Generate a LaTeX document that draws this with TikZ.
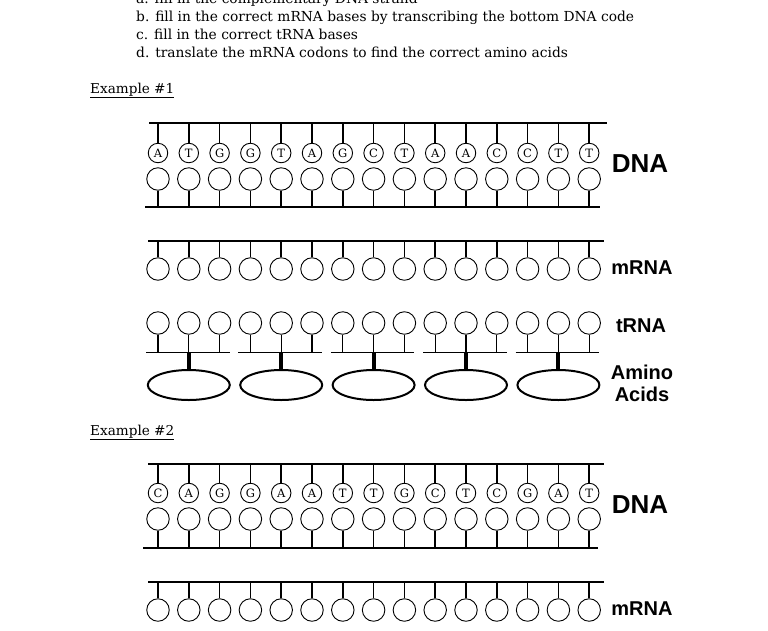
\documentclass[tikz,border=0pt]{standalone}
\usepackage{fontspec}
\setmainfont{DejaVu Serif}
\newfontfamily\labfont{Liberation Sans}
\usetikzlibrary{shapes.geometric}
\begin{document}
\begin{tikzpicture}[x=1pt,y=-1pt,
  basec/.style={circle,draw,line width=0.9pt,minimum size=19.5pt,inner sep=0pt,font=\fontsize{11.5}{11.5}\selectfont},
  blank/.style={circle,draw,line width=0.9pt,minimum size=22.5pt,inner sep=0pt},
  backbone/.style={line width=2.4pt},
  stem/.style={line width=1.5pt},
  thickstem/.style={line width=4pt},
  barline/.style={line width=1pt},
  acid/.style={ellipse,draw,line width=2pt,minimum width=82pt,minimum height=30pt,inner sep=0pt},
  lab/.style={font=\labfont\bfseries\fontsize{20}{20}\selectfont},
  biglab/.style={font=\labfont\bfseries\fontsize{26}{26}\selectfont},
  instr/.style={anchor=base west,inner sep=0pt,font=\fontsize{13.8}{13.8}\selectfont},
  exlab/.style={anchor=base west,inner sep=0pt,font=\fontsize{13.6}{13.6}\selectfont}]
\useasboundingbox (0,0) rectangle (768,630);
\clip (0,0) rectangle (768,630);

% instructions
\node[instr] (ia) at (136,3) {a. fill in the complementary DNA strand};
\node[instr] (ib) at (136,21) {b. fill in the correct mRNA bases by transcribing the bottom DNA code};
\node[instr] (ic) at (136,39) {c. fill in the correct tRNA bases};
\node[instr] (id) at (136,57) {d. translate the mRNA codons to find the correct amino acids};

% ---------- Example 1 ----------
\node[exlab] (ex1) at (90,93) {\underline{Example \#1}};

% DNA
\coordinate (e1dtl) at (149,123); \coordinate (e1dtr) at (607,123);
\coordinate (e1dbl) at (145,207); \coordinate (e1dbr) at (600,207);
\draw[backbone] (e1dtl) -- (e1dtr);
\draw[backbone] (e1dbl) -- (e1dbr);
\foreach \L [count=\i] in {A,T,G,G,T,A,G,C,T,A,A,C,C,T,T}{
  \pgfmathsetmacro{\xx}{158+(\i-1)*30.8}
  \node[basec] (e1a\i) at (\xx,153) {\L};
  \node[blank] (e1b\i) at (\xx,179) {};
  \draw[stem] (e1a\i.north) -- (e1a\i.north |- e1dtl);
  \draw[stem] (e1b\i.south) -- (e1b\i.south |- e1dbl);
}
\node[biglab] (e1dna) at (640,164) {DNA};

% mRNA
\coordinate (e1ml) at (148,241); \coordinate (e1mr) at (604,241);
\draw[backbone] (e1ml) -- (e1mr);
\foreach \i in {1,...,15}{
  \pgfmathsetmacro{\xx}{158+(\i-1)*30.8}
  \node[blank] (e1m\i) at (\xx,269) {};
  \draw[stem] (e1m\i.north) -- (e1m\i.north |- e1ml);
}
\node[lab] (e1mrna) at (642,268) {mRNA};

% tRNA
\foreach \i in {1,...,15}{
  \pgfmathsetmacro{\xx}{158+(\i-1)*30.8}
  \node[blank] (e1t\i) at (\xx,323) {};
}
\foreach \g in {1,...,5}{
  \pgfmathtruncatemacro{\fa}{3*\g-2}
  \pgfmathtruncatemacro{\fb}{3*\g-1}
  \pgfmathtruncatemacro{\fc}{3*\g}
  \coordinate (e1gl\g) at ([xshift=-12pt]e1t\fa.center |- 0,352);
  \coordinate (e1gr\g) at ([xshift=10pt]e1t\fc.center |- 0,352);
  \draw[barline] (e1gl\g) -- (e1gr\g);
  \foreach \k in {\fa,\fb,\fc}{
    \draw[barline,line width=1.3pt] (e1t\k.south) -- (e1t\k.south |- e1gl\g);
  }
  \node[acid] (e1aa\g) at (e1t\fb.center |- 0,385) {};
  \draw[thickstem] (e1t\fb.center |- e1gl\g) -- (e1aa\g.north);
}
\node[lab] (e1trna) at (641,326) {tRNA};
\node[lab] (e1amino) at (642,372) {Amino};
\node[lab] (e1acids) at (642,394) {Acids};

% ---------- Example 2 ----------
\node[exlab] (ex2) at (90,435) {\underline{Example \#2}};

\coordinate (e2dtl) at (148,464); \coordinate (e2dtr) at (604,464);
\coordinate (e2dbl) at (143,548); \coordinate (e2dbr) at (598,548);
\draw[backbone] (e2dtl) -- (e2dtr);
\draw[backbone] (e2dbl) -- (e2dbr);
\foreach \L [count=\i] in {C,A,G,G,A,A,T,T,G,C,T,C,G,A,T}{
  \pgfmathsetmacro{\xx}{158+(\i-1)*30.8}
  \node[basec] (e2a\i) at (\xx,493) {\L};
  \node[blank] (e2b\i) at (\xx,519) {};
  \draw[stem] (e2a\i.north) -- (e2a\i.north |- e2dtl);
  \draw[stem] (e2b\i.south) -- (e2b\i.south |- e2dbl);
}
\node[biglab] (e2dna) at (640,505) {DNA};

\coordinate (e2ml) at (148,582); \coordinate (e2mr) at (604,582);
\draw[backbone] (e2ml) -- (e2mr);
\foreach \i in {1,...,15}{
  \pgfmathsetmacro{\xx}{158+(\i-1)*30.8}
  \node[blank] (e2m\i) at (\xx,610) {};
  \draw[stem] (e2m\i.north) -- (e2m\i.north |- e2ml);
}
\node[lab] (e2mrna) at (642,609) {mRNA};
\end{tikzpicture}
\end{document}
